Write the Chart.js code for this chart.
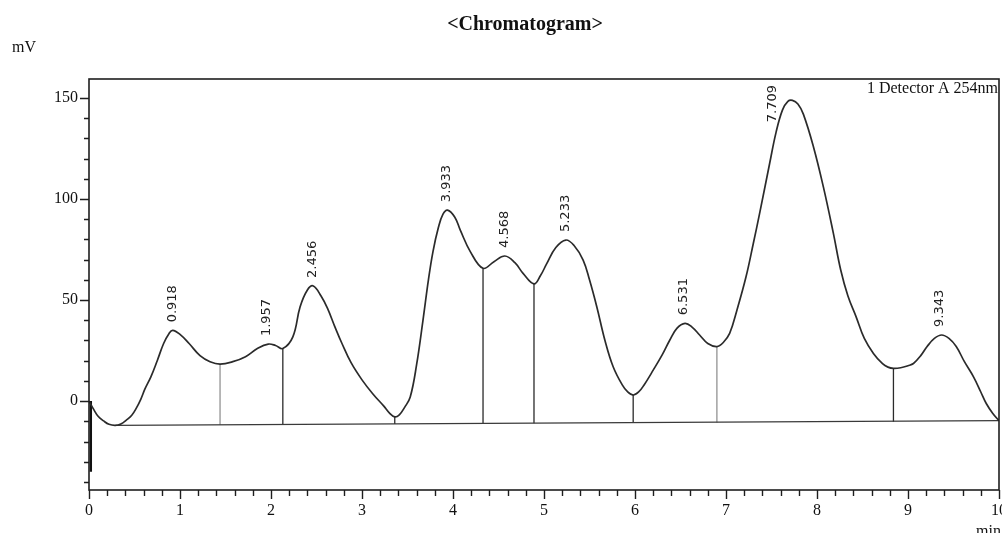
<!DOCTYPE html>
<html>
<head>
<meta charset="utf-8">
<title>Chromatogram</title>
<script src="https://cdn.jsdelivr.net/npm/chart.js@4.4.1/dist/chart.umd.min.js"></script>
<style>
  html, body { margin: 0; padding: 0; background: #fff; }
  #chrom { display: block; }
</style>
</head>
<body>
<canvas id="chrom" width="1002" height="533"></canvas>
<script>
//-----------Data-----------
// detector trace, time in min / signal in mV
const traceTimes = [
  0.00, 0.05, 0.10, 0.16, 0.22, 0.29, 0.35, 0.41, 0.47, 0.52, 0.57, 0.615, 0.68, 0.75, 0.82, 0.88, 0.92,
  1.00, 1.10, 1.22, 1.33, 1.44, 1.58, 1.72, 1.85, 1.97, 2.05, 2.13, 2.24, 2.32, 2.40, 2.465,
  2.55, 2.62, 2.70, 2.78, 2.88, 3.00, 3.12, 3.24, 3.30, 3.36, 3.41, 3.47, 3.53, 3.60, 3.67, 3.73, 3.78, 3.84, 3.89, 3.94,
  4.02, 4.08, 4.19, 4.33, 4.45, 4.57, 4.68, 4.77, 4.89, 4.96, 5.03, 5.13, 5.24, 5.33, 5.43,
  5.50, 5.58, 5.67, 5.76, 5.86, 5.92, 5.98, 6.04, 6.10, 6.20, 6.30, 6.38, 6.46, 6.55, 6.63, 6.71, 6.80,
  6.90, 6.97, 7.04, 7.12, 7.22, 7.30, 7.37, 7.48, 7.55, 7.62, 7.68, 7.73, 7.79, 7.85, 7.96, 8.07,
  8.18, 8.26, 8.34, 8.43, 8.52, 8.62, 8.72, 8.78, 8.84, 8.92, 9.00, 9.06, 9.14, 9.21, 9.29, 9.37, 9.45,
  9.53, 9.62, 9.72, 9.80, 9.86, 9.93, 10.00
];
const traceValues = [
  0, -4, -7.5, -9.8, -11.5, -12, -11.3, -9.4, -7, -3.5, 1, 6, 12, 20, 28.5, 33.5, 35,
  33, 28.5, 22.5, 19.5, 18.3, 19.5, 22, 26, 28.2, 27.5, 26, 31.8, 46.7, 55, 57,
  52, 46, 37, 28.5, 19, 10.5, 3.5, -2.5, -5.8, -7.8, -6.8, -3, 2, 18, 40, 60, 74, 86, 92.5, 94.5,
  91, 84.6, 74, 65.7, 69, 71.8, 68.5, 63.2, 58, 62, 68, 76, 79.7, 77, 69.8,
  60, 46.7, 30, 17, 8, 4.5, 3, 4.5, 8, 15.3, 23, 30, 36, 38.5, 36.5, 32.7, 28.5,
  27, 29, 33.5, 45, 61.5, 78, 93, 117.7, 133, 144, 148.3, 148.8, 147, 142, 126, 106,
  83, 65, 52, 41.7, 31, 23.6, 18.5, 16.8, 16.2, 16.5, 17.5, 18.6, 22.5, 27, 31, 32.7, 31,
  27, 19.5, 12, 4.5, -1.2, -6, -9.7
];

// injection spike at the start of the run
const spikeTime = 0.02;
const spikeLow = -35;
const spikeHigh = 0;

// integration baseline
const baselineTimes = [0.29, 10.0];
const baselineValues = [-12, -9.7];

// peak separation drop lines
const dropTimes = [1.44, 2.13, 3.36, 4.33, 4.89, 5.98, 6.90, 8.84];
const dropTops = [18.3, 26, -7.8, 65.7, 58, 3, 27, 16.2];
const dropBottoms = [-11.7, -11.6, -11.3, -11.1, -11.0, -10.8, -10.6, -10.2];

// labelled peaks
const peakTimes = [0.918, 1.957, 2.456, 3.933, 4.568, 5.233, 6.531, 7.709, 9.343];
const peakHeights = [35, 28.2, 57, 94.5, 71.8, 79.7, 38.5, 148.7, 32.7];

// axes
const xTickValues = [0, 0.2, 0.4, 0.6, 0.8, 1, 1.2, 1.4, 1.6, 1.8, 2, 2.2, 2.4, 2.6, 2.8, 3, 3.2, 3.4, 3.6, 3.8,
  4, 4.2, 4.4, 4.6, 4.8, 5, 5.2, 5.4, 5.6, 5.8, 6, 6.2, 6.4, 6.6, 6.8, 7, 7.2, 7.4, 7.6, 7.8,
  8, 8.2, 8.4, 8.6, 8.8, 9, 9.2, 9.4, 9.6, 9.8, 10];
const xTickLabels = ['0', '1', '2', '3', '4', '5', '6', '7', '8', '9', '10'];
const yTickValues = [-40, -30, -20, -10, 0, 10, 20, 30, 40, 50, 60, 70, 80, 90, 100, 110, 120, 130, 140, 150];
const yTickLabels = ['0', '50', '100', '150'];

//-----------Styling-----------
const SERIF = '"Liberation Serif", "Times New Roman", serif';
const INK = '#1e1e1e';
const FAINT_DROPS = [0, 6];   // drop lines drawn in grey

// build the {x, y} arrays the line chart wants
const toPoints = (xs, ys) => xs.map((x, i) => ({ x: x, y: ys[i] }));

const dropBlack = [];
const dropGrey = [];
dropTimes.forEach((t, i) => {
  const target = FAINT_DROPS.includes(i) ? dropGrey : dropBlack;
  target.push({ x: t, y: dropBottoms[i] }, { x: t, y: dropTops[i] }, { x: t, y: null });
});

//-----------Decoration plugin (frame, ticks, texts)-----------
const decor = {
  id: 'decor',
  beforeDraw(chart) {
    const ctx = chart.ctx;
    ctx.save();
    ctx.fillStyle = '#fff';
    ctx.fillRect(0, 0, chart.width, chart.height);
    ctx.restore();
  },
  afterDatasetsDraw(chart) {
    const { ctx, chartArea: area } = chart;
    const xs = chart.scales.x;
    const ys = chart.scales.y;

    ctx.save();

    // frame round the plot
    ctx.strokeStyle = INK;
    ctx.lineWidth = 1.6;
    ctx.strokeRect(area.left, area.top, area.right - area.left, area.bottom - area.top);

    // x ticks
    ctx.lineWidth = 1.4;
    ctx.beginPath();
    xTickValues.forEach(v => {
      const px = Math.round(xs.getPixelForValue(v)) + 0.5;
      const major = Math.abs(v - Math.round(v)) < 1e-6;
      ctx.moveTo(px, area.bottom);
      ctx.lineTo(px, area.bottom + (major ? 9 : 6));
    });
    // y ticks
    yTickValues.forEach(v => {
      const py = Math.round(ys.getPixelForValue(v)) + 0.5;
      const major = v % 50 === 0;
      ctx.moveTo(area.left, py);
      ctx.lineTo(area.left - (major ? 9 : 5), py);
    });
    ctx.stroke();

    // tick labels
    ctx.fillStyle = '#111';
    ctx.font = '16px ' + SERIF;
    ctx.textAlign = 'center';
    ctx.textBaseline = 'middle';
    xTickLabels.forEach(l => {
      ctx.fillText(l, xs.getPixelForValue(Number(l)), area.bottom + 21);
    });
    ctx.textAlign = 'right';
    yTickLabels.forEach(l => {
      ctx.fillText(l, area.left - 11, ys.getPixelForValue(Number(l)));
    });

    // units
    ctx.textAlign = 'left';
    ctx.fillText('mV', 12, 48);
    ctx.textBaseline = 'top';
    ctx.fillText('min', 976, 524);

    // title
    ctx.font = 'bold 20px ' + SERIF;
    ctx.textAlign = 'center';
    ctx.textBaseline = 'middle';
    ctx.fillText('<Chromatogram>', 525, 25);

    // detector label
    ctx.font = '16px ' + SERIF;
    ctx.textAlign = 'right';
    ctx.fillText('1 Detector A 254nm', area.right - 1, 89);

    // rotated retention times above each peak
    ctx.font = '13px "DejaVu Sans", Verdana, sans-serif';
    ctx.fillStyle = '#222';
    ctx.textAlign = 'left';
    ctx.textBaseline = 'middle';
    peakTimes.forEach((t, i) => {
      const label = t.toFixed(3);
      const w = ctx.measureText(label).width;
      let px = xs.getPixelForValue(t);
      let py = ys.getPixelForValue(peakHeights[i]) - 8;
      // no room above the peak: slide the label down and to the left
      if (py - w < area.top + 4) {
        py = area.top + 6 + w;
        px -= 18;
      }
      ctx.save();
      ctx.translate(px, py);
      ctx.rotate(-Math.PI / 2);
      ctx.fillText(label, 0, 0);
      ctx.restore();
    });

    ctx.restore();
  }
};

//-----------Chart-----------
const ctx = document.getElementById('chrom').getContext('2d');

const config = {
  type: 'line',
  data: {
    datasets: [
      {
        data: toPoints(traceTimes, traceValues),
        borderColor: '#2b2b2b',
        borderWidth: 1.7,
        pointRadius: 0,
        tension: 0.4
      },
      {
        data: toPoints(baselineTimes, baselineValues),
        borderColor: '#3a3a3a',
        borderWidth: 1.3,
        pointRadius: 0
      },
      {
        data: dropBlack,
        borderColor: '#2b2b2b',
        borderWidth: 1.3,
        pointRadius: 0,
        spanGaps: false
      },
      {
        data: dropGrey,
        borderColor: '#8a8a8a',
        borderWidth: 1.2,
        pointRadius: 0,
        spanGaps: false
      },
      {
        data: [{ x: spikeTime, y: spikeHigh }, { x: spikeTime, y: spikeLow }],
        borderColor: '#111',
        borderWidth: 2.4,
        pointRadius: 0
      }
    ]
  },
  options: {
    responsive: false,
    animation: false,
    events: [],
    layout: {
      padding: { left: 89, top: 79, right: 3, bottom: 43 }
    },
    scales: {
      x: { type: 'linear', min: 0, max: 10, display: false },
      y: { type: 'linear', min: -44, max: 159.4, display: false }
    },
    plugins: {
      legend: { display: false },
      tooltip: { enabled: false },
      title: { display: false }
    }
  },
  plugins: [decor]
};

new Chart(ctx, config);
</script>
</body>
</html>
